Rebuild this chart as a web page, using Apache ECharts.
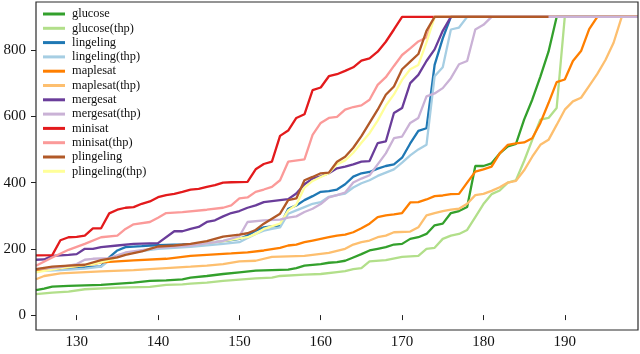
<!DOCTYPE html>
<html><head><meta charset="utf-8">
<script src="https://cdn.jsdelivr.net/npm/echarts@6/dist/echarts.min.js"></script>
<style>html,body{margin:0;padding:0;background:#fff}#c{width:640px;height:354px}</style>
</head><body><div id="c"></div><script>
// cactus plot: [instances solved (rank), time in seconds]; 900 = timeout
const TIMEOUT = 900;
const X_MIN = 125, X_MAX = 199, Y_MIN = -45, Y_MAX = 945;
const xTicks = [130, 140, 150, 160, 170, 180, 190];
const yTicks = [0, 200, 400, 600, 800];

const glucose = [[125,75],[126,80],[127,86],[129,88],[133,91],[137,98],[139,103],[141,105],[143,108],[144,113],[146,118],[148,124],[150,129],[152,134],[154,136],[156,137],[157,142],[158,149],[160,154],[161,158],[162,160],[163,164],[164,174],[165,184],[166,195],[167,200],[168,205],[169,213],[170,215],[171,230],[172,235],[173,245],[174,271],[175,276],[176,308],[177,314],[178,326],[179,450],[180,450],[181,458],[182,488],[183,509],[184,517],[185,590],[186,650],[187,720],[188,795],[189,900]];
const glucoseThp = [[125,63],[127,68],[129,71],[131,78],[135,83],[139,85],[141,91],[143,93],[144,95],[146,98],[148,103],[152,111],[154,113],[155,118],[158,122],[160,124],[162,130],[163,133],[164,139],[165,142],[166,162],[168,166],[170,176],[172,179],[173,200],[174,203],[175,230],[176,240],[177,245],[178,257],[179,296],[180,335],[181,365],[182,376],[183,400],[184,407],[185,465],[186,529],[187,590],[188,595],[189,625],[190,900]];
const lingeling = [[125,135],[128,139],[131,144],[133,147],[134,174],[135,195],[136,205],[138,208],[139,210],[143,213],[145,215],[147,220],[149,226],[150,230],[151,240],[152,255],[153,265],[154,268],[155,270],[156,321],[157,331],[158,347],[159,359],[160,372],[161,374],[162,379],[163,395],[164,418],[165,428],[166,432],[167,442],[168,450],[169,455],[170,475],[171,518],[172,556],[173,564],[174,755],[175,835],[176,900]];
const lingelingThp = [[125,133],[128,136],[131,140],[133,146],[134,165],[135,180],[137,190],[140,200],[144,206],[148,215],[150,220],[151,233],[152,245],[153,255],[154,260],[155,265],[156,306],[157,316],[158,326],[159,336],[160,341],[161,357],[162,362],[163,367],[164,385],[165,398],[166,407],[167,420],[168,430],[169,440],[170,460],[171,482],[172,500],[173,514],[174,721],[175,748],[176,862],[177,868],[178,900]];
const maplesat = [[125,136],[127,139],[130,148],[132,154],[133,159],[137,165],[141,170],[144,179],[146,182],[149,186],[151,189],[153,195],[155,203],[156,210],[157,213],[158,220],[159,225],[160,230],[161,235],[162,240],[163,243],[164,250],[165,262],[166,276],[167,296],[168,301],[169,304],[170,308],[171,340],[172,341],[173,349],[174,359],[175,361],[176,365],[177,366],[178,400],[179,433],[180,440],[181,448],[182,488],[183,514],[184,518],[185,521],[186,534],[187,580],[188,640],[189,703],[190,711],[191,767],[192,797],[193,863],[194,900]];
const maplesatThp = [[125,108],[126,118],[128,126],[133,132],[137,136],[141,142],[144,146],[146,149],[148,154],[150,162],[152,164],[154,176],[158,179],[161,188],[163,200],[164,213],[165,220],[166,225],[167,235],[168,240],[169,250],[171,252],[172,265],[173,301],[174,308],[175,314],[176,318],[177,321],[178,336],[179,362],[180,366],[181,375],[182,386],[183,400],[184,405],[185,437],[186,478],[187,514],[188,529],[189,574],[190,620],[191,645],[192,656],[193,692],[194,728],[195,770],[196,822],[197,900]];
const mergesat = [[125,167],[126,168],[127,179],[129,182],[130,184],[131,200],[132,200],[133,205],[135,210],[137,215],[140,217],[142,253],[143,253],[144,260],[145,266],[146,281],[147,286],[148,298],[149,308],[150,314],[151,324],[152,331],[153,341],[155,347],[156,350],[157,367],[158,395],[159,412],[160,419],[161,428],[162,443],[163,448],[164,455],[165,463],[166,465],[167,519],[168,524],[169,610],[170,625],[171,700],[172,725],[173,767],[174,802],[175,858],[176,900]];
const mergesatThp = [[125,139],[128,145],[130,154],[131,167],[132,170],[134,172],[136,189],[140,203],[144,210],[147,220],[148,224],[150,238],[151,281],[153,286],[155,288],[156,294],[157,298],[158,311],[159,321],[160,335],[161,355],[162,362],[163,370],[164,400],[165,412],[166,422],[167,455],[168,488],[169,534],[170,539],[171,580],[172,595],[173,660],[174,669],[175,685],[176,715],[177,757],[178,767],[179,862],[180,876],[181,900]];
const minisat = [[125,180],[127,181],[128,226],[129,235],[130,236],[131,240],[132,262],[133,262],[134,307],[135,318],[136,324],[137,326],[138,336],[139,343],[140,356],[141,362],[142,366],[143,372],[144,379],[145,381],[146,387],[147,392],[148,400],[149,401],[151,402],[152,440],[153,456],[154,463],[155,541],[156,557],[157,595],[158,606],[159,679],[160,687],[161,721],[162,727],[163,737],[164,748],[165,768],[166,775],[167,795],[168,825],[169,862],[170,900]];
const minisatThp = [[125,149],[127,174],[129,197],[131,215],[133,235],[135,240],[136,260],[137,274],[139,281],[140,294],[141,308],[143,311],[146,318],[148,324],[149,331],[150,352],[151,355],[152,372],[153,379],[154,387],[155,407],[156,463],[158,470],[159,544],[160,580],[161,595],[162,598],[163,620],[164,628],[165,633],[166,650],[167,695],[168,718],[169,752],[170,785],[171,805],[172,826],[173,838],[174,900]];
const plingeling = [[125,139],[127,146],[129,149],[131,152],[133,166],[135,174],[136,182],[138,192],[139,200],[140,207],[142,210],[144,215],[146,223],[148,237],[150,243],[151,247],[152,257],[153,276],[154,291],[155,306],[156,347],[157,352],[158,407],[159,417],[160,428],[161,430],[162,463],[163,478],[164,505],[165,540],[166,580],[167,620],[168,665],[169,690],[170,742],[171,765],[172,788],[173,858],[174,900]];
const plingelingThp = [[125,129],[128,142],[132,154],[134,166],[136,184],[140,205],[144,212],[148,223],[151,235],[152,245],[153,260],[155,276],[156,316],[157,333],[158,385],[159,405],[160,417],[161,428],[162,455],[163,467],[164,490],[165,520],[166,549],[167,587],[168,632],[169,666],[170,710],[171,742],[172,755],[173,823],[174,900]];
// last rank at which each solver's timeout line is drawn
const lastRank = [199, 199, 199, 199, 199, 199, 199, 199, 199, 199, 188, 199];

const names = ['glucose','glucose(thp)','lingeling','lingeling(thp)','maplesat','maplesat(thp)','mergesat','mergesat(thp)','minisat','minisat(thp)','plingeling','plingeling(thp)'];
const solverData = [glucose, glucoseThp, lingeling, lingelingThp, maplesat, maplesatThp, mergesat, mergesatThp, minisat, minisatThp, plingeling, plingelingThp];
const colors = ['#33a02c','#b2df8a','#1f78b4','#a6cee3','#ff7f00','#fdbf6f','#6a3d9a','#cab2d6','#e31a1c','#fb9a99','#b15928','#ffff99'];
const zOrder = [2, 2.01, 2.02, 2.03, 2.04, 2.05, 2.06, 2.2, 2.08, 2.09, 2.3, 2.11];

const FONT = '"Liberation Serif", "DejaVu Serif", serif';
const chart = echarts.init(document.getElementById('c'), null, {renderer: 'canvas'});
chart.setOption({
  animation: false,
  backgroundColor: '#fff',
  grid: {left: 36, right: 2, top: 2, bottom: 24, show: true, borderColor: '#2a2a2a', borderWidth: 1.2, backgroundColor: 'transparent', z: 5},
  legend: {
    data: names, orient: 'vertical', left: 43, top: 7, padding: 0,
    icon: 'rect', itemWidth: 22, itemHeight: 3, itemGap: 0.3,
    textStyle: {fontFamily: FONT, fontSize: 12.4, color: '#111', lineHeight: 14, padding: [0, 0, 0, 2]}
  },
  xAxis: {
    type: 'value', min: X_MIN, max: X_MAX,
    axisLine: {show: false}, splitLine: {show: false},
    axisTick: {show: true, customValues: xTicks, length: 5, lineStyle: {color: '#222', width: 1}},
    axisLabel: {customValues: xTicks, margin: 5, fontFamily: FONT, fontSize: 15, color: '#111'}
  },
  yAxis: {
    type: 'value', min: Y_MIN, max: Y_MAX,
    axisLine: {show: false}, splitLine: {show: false},
    axisTick: {show: true, customValues: yTicks, length: 5, lineStyle: {color: '#222', width: 1}},
    axisLabel: {customValues: yTicks, margin: 10, fontFamily: FONT, fontSize: 15, color: '#111'}
  },
  series: solverData.map((d, i) => ({
    name: names[i], type: 'line', data: d.concat([[lastRank[i], TIMEOUT]]),
    showSymbol: false, symbol: 'none', clip: true,
    color: colors[i], lineStyle: {width: 2.3, color: colors[i]}, z: zOrder[i]
  }))
});
</script></body></html>
